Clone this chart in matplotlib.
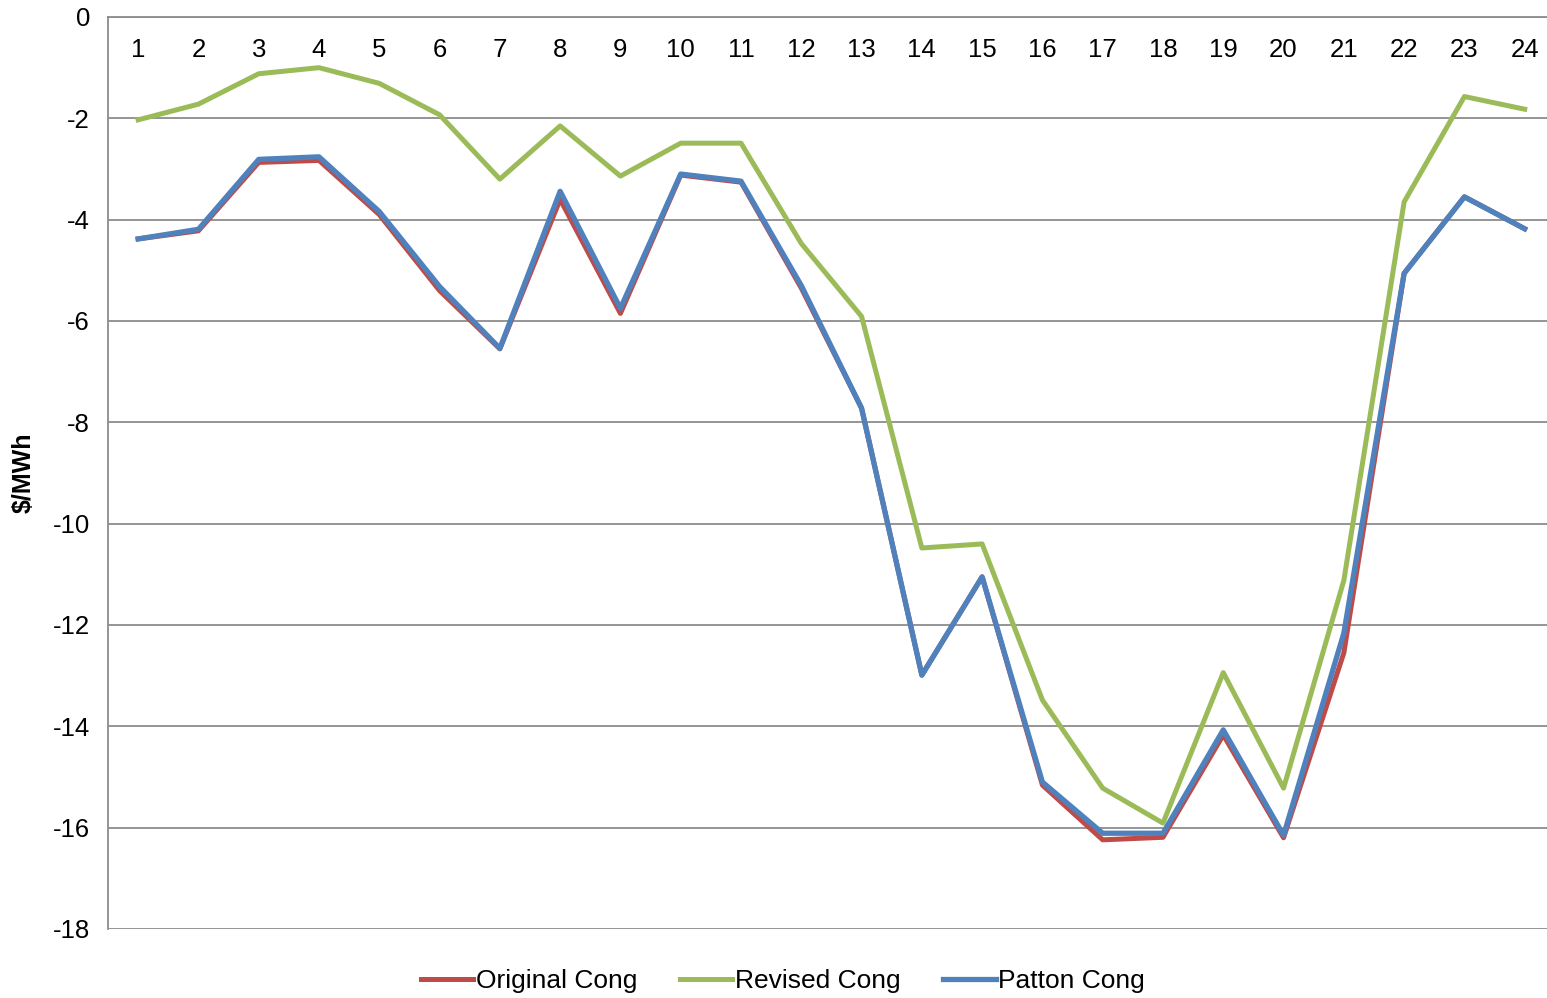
import matplotlib
matplotlib.use("Agg")
import matplotlib.pyplot as plt

# Hourly congestion values ($/MWh)
hours = list(range(1, 25))
original_cong = [-4.38, -4.22, -2.87, -2.83, -3.90, -5.40, -6.55, -3.60, -5.85, -3.12, -3.26, -5.35,
                 -7.72, -12.99, -11.05, -15.16, -16.24, -16.19, -14.17, -16.20, -12.55, -5.06, -3.55, -4.18]
revised_cong = [-2.03, -1.72, -1.12, -1.00, -1.31, -1.93, -3.20, -2.15, -3.14, -2.49, -2.49, -4.47,
                -5.91, -10.48, -10.40, -13.48, -15.22, -15.91, -12.94, -15.22, -11.12, -3.65, -1.57, -1.82]
patton_cong = [-4.38, -4.19, -2.81, -2.76, -3.84, -5.32, -6.54, -3.44, -5.75, -3.10, -3.24, -5.30,
               -7.72, -12.99, -11.05, -15.10, -16.11, -16.11, -14.07, -16.15, -12.16, -5.06, -3.55, -4.18]

plt.rcParams['font.family'] = ['Liberation Sans', 'DejaVu Sans']
plt.rcParams['axes.unicode_minus'] = False

fig = plt.figure(figsize=(15.47, 9.98), dpi=100)
ax = fig.add_axes([108/1547, 1 - 929/998, 1 - 108/1547, (929 - 17)/998])

ax.plot(hours, original_cong, color='#BE4B48', lw=3.6, label='Original Cong', solid_joinstyle='round')
ax.plot(hours, revised_cong, color='#9BBB59', lw=3.6, label='Revised Cong', solid_joinstyle='round')
ax.plot(hours, patton_cong, color='#4F81BD', lw=3.8, label='Patton Cong', solid_joinstyle='round')

ax.set_xlim(0.5, 24.37)
ax.set_ylim(-18, 0)
ax.set_yticks(range(-18, 1, 2))
ax.set_xticks(hours)
ax.set_xticklabels([str(h) for h in hours])

ax.grid(axis='y', color='#8C8C8C', lw=1.3)
ax.set_axisbelow(True)
for s in ['right', 'bottom']:
    ax.spines[s].set_visible(False)
ax.spines['left'].set_color('#8C8C8C')
ax.spines['left'].set_linewidth(1.3)
ax.spines['top'].set_color('#8C8C8C')
ax.spines['top'].set_linewidth(1.3)

ax.tick_params(axis='x', bottom=False, top=False, labelbottom=False, labeltop=True,
               pad=-36, labelsize=18.5)
ax.tick_params(axis='y', length=0, pad=13, labelsize=18.5)

fig.text(24/1547, 1 - 473/998, '$/MWh', rotation=90, ha='center', va='center',
         fontsize=18, fontweight='bold')

fig.legend(loc='center', bbox_to_anchor=(0.506, 0.017), ncol=3, frameon=False,
           fontsize=19, handlelength=2.0, handletextpad=0.1, columnspacing=1.6)

fig.savefig('out.png', dpi=100)
